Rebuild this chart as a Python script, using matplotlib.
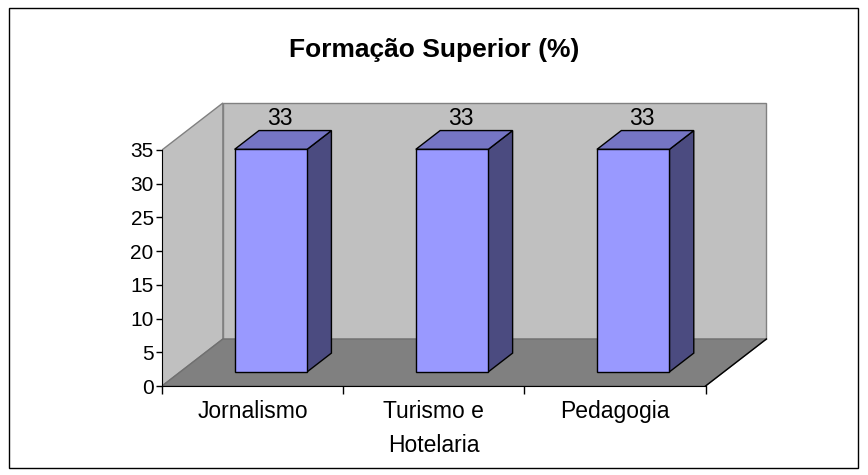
import matplotlib
matplotlib.use("Agg")
import matplotlib.pyplot as plt
from matplotlib.patches import Polygon, Rectangle

plt.rcParams['font.family'] = ['Liberation Sans', 'DejaVu Sans']

categories = ['Jornalismo', 'Turismo e\nHotelaria', 'Pedagogia']
values = [33, 33, 33]
yticks = [0, 5, 10, 15, 20, 25, 30, 35]
title = 'Formação Superior (%)'

# oblique depth of the 3D box, in data units (categories, value)
DX, DY = 0.336, 6.97
YMAX = 35
F0, F1 = 0.3, 0.7   # bar depth position within the box
BW = 0.40           # bar width

fig = plt.figure(figsize=(8.68, 4.75), dpi=100)
fig.patches.append(Rectangle((9 / 868, 7 / 475), 849 / 868, 460 / 475,
                             transform=fig.transFigure, fill=False,
                             edgecolor='black', linewidth=1))
ax = fig.add_axes([162 / 868, 89 / 475, 616 / 868, 286.6 / 475])
ax.set_xlim(0, 3.4)
ax.set_ylim(0, 42.5)
ax.patch.set_visible(False)

n = len(categories)
wall = '#c0c0c0'
# left wall, back wall, floor
ax.add_patch(Polygon([(0, 0), (0, YMAX), (DX, YMAX + DY), (DX, DY)],
                     facecolor=wall, edgecolor='#808080', lw=1))
ax.add_patch(Polygon([(DX, DY), (DX, YMAX + DY), (n + DX, YMAX + DY), (n + DX, DY)],
                     facecolor=wall, edgecolor='#808080', lw=1))
ax.add_patch(Polygon([(0, 0), (n, 0), (n + DX, DY), (DX, DY)],
                     facecolor='#808080', edgecolor='#707070', lw=1))
ax.plot([n, n + DX], [0, DY], color='black', lw=1)

ddx, ddy = (F1 - F0) * DX, (F1 - F0) * DY
for i, v in enumerate(values):
    x0 = i + 0.5 - BW / 2 + F0 * DX
    y0 = F0 * DY
    ax.add_patch(Polygon([(x0 + BW, y0), (x0 + BW + ddx, y0 + ddy),
                          (x0 + BW + ddx, y0 + ddy + v), (x0 + BW, y0 + v)],
                         facecolor='#4b4b80', edgecolor='black', lw=1))
    ax.add_patch(Polygon([(x0, y0 + v), (x0 + BW, y0 + v),
                          (x0 + BW + ddx, y0 + v + ddy), (x0 + ddx, y0 + v + ddy)],
                         facecolor='#7575c4', edgecolor='black', lw=1))
    ax.add_patch(Rectangle((x0, y0), BW, v, facecolor='#9999ff',
                           edgecolor='black', lw=1))
    ax.text(i + 0.5 + 0.45 * DX, v + F1 * DY + 0.1, str(v), ha='center',
            va='bottom', fontsize=16.5)

for s in ['top', 'right']:
    ax.spines[s].set_visible(False)
ax.spines['left'].set_bounds(0, YMAX)
ax.spines['bottom'].set_bounds(0, n)
ax.set_yticks(yticks)
ax.tick_params(axis='y', direction='out', length=4, width=1, pad=2, labelsize=15)
ax.set_xticks(range(n + 1))
ax.set_xticklabels([])
ax.set_xticks([i + 0.5 for i in range(n)], minor=True)
ax.set_xticklabels(categories, minor=True, fontsize=16.5, linespacing=1.6)
ax.tick_params(axis='x', which='major', direction='out', length=6, width=1)
ax.tick_params(axis='x', which='minor', length=0, pad=10)

fig.text(0.5, 1 - 50 / 475, title, ha='center', va='center',
         fontsize=19, fontweight='bold')

fig.savefig('out.png', dpi=100)
